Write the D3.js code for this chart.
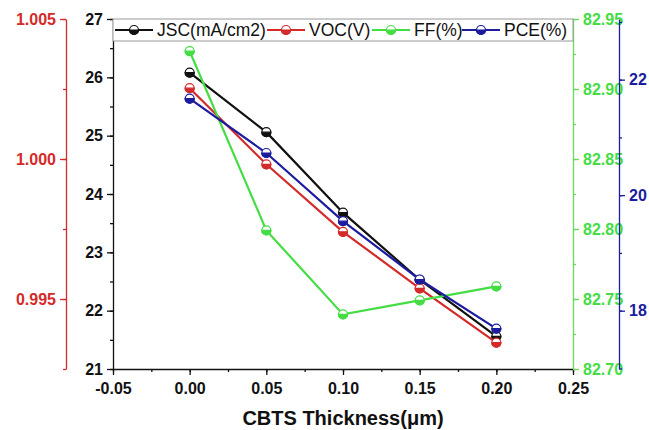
<!DOCTYPE html>
<html>
<head>
<meta charset="utf-8">
<script src="https://cdn.jsdelivr.net/npm/d3@7"></script>
<style>
  body { margin: 0; background: #fff; }
  svg { display: block; font-family: "Liberation Sans", Arial, sans-serif; }
</style>
</head>
<body>
<div id="chart"></div>
<script>
// data ---------------------------------------------------------------------------------------------
const thickness = [0.00, 0.05, 0.10, 0.15, 0.20];
const jsc = [26.08, 25.06, 23.68, 22.53, 21.56];
const voc = [1.00253, 0.99981, 0.99740, 0.99538, 0.99344];
const ff = [82.927, 82.799, 82.739, 82.749, 82.759];
const pce = [21.67, 20.73, 19.55, 18.54, 17.69];

const xTicks = [-0.05, 0.00, 0.05, 0.10, 0.15, 0.20, 0.25];
const jscTicks = [21, 22, 23, 24, 25, 26, 27];
const vocTicks = [0.995, 1.000, 1.005];
const ffTicks = [82.70, 82.75, 82.80, 82.85, 82.90, 82.95];
const pceTicks = [18, 20, 22];

const seriesNames = ['JSC(mA/cm2)', 'VOC(V)', 'FF(%)', 'PCE(%)'];

// chart setup --------------------------------------------------------------------------------------
const width = 649;
const height = 430;
const margin = { top: 19, right: 76, bottom: 61, left: 113 };

const colors = {
    jsc: '#111111',
    voc: '#d42a2a',
    ff: '#44dd44',
    pce: '#1c1c9e'
};

const svg = d3.select('#chart')
    .append('svg')
    .attr('width', width)
    .attr('height', height);

const xScale = d3.scaleLinear()
    .domain([-0.05, 0.25])
    .range([margin.left, width - margin.right]);

const yRange = [height - margin.bottom, margin.top];
const yJsc = d3.scaleLinear().domain([21, 27]).range(yRange);
const yVoc = d3.scaleLinear().domain([0.9925, 1.005]).range(yRange);
const yFf = d3.scaleLinear().domain([82.70, 82.95]).range(yRange);
const yPce = d3.scaleLinear().domain([16.99, 23.05]).range(yRange);

// axes ---------------------------------------------------------------------------------------------
function styleAxis(g, color, fontSize) {
    g.selectAll('path.domain').attr('stroke', color).attr('stroke-width', 1.3);
    g.selectAll('line').attr('stroke', color).attr('stroke-width', 1.3);
    g.selectAll('text')
        .attr('fill', color)
        .style('font-size', fontSize + 'px')
        .style('font-weight', 'bold')
        .style('font-family', '"Liberation Sans", Arial, sans-serif');
}

function minorTicks(scale, step) {
    const [a, b] = scale.domain();
    const out = [];
    const start = Math.ceil(a / step - 1e-6);
    for (let i = start; i * step <= b + 1e-9; i++) out.push(i * step);
    return out;
}

// plain hyphen instead of unicode minus, like the original
const fmt = spec => v => d3.format(spec)(v).replace('\u2212', '-');

function drawAxis(axisFn, scale, ticks, format, transform, color, minorStep) {
    // minor ticks first
    svg.append('g')
        .attr('transform', transform)
        .call(axisFn(scale).tickValues(minorTicks(scale, minorStep)).tickSize(3).tickFormat(''))
        .call(g => g.select('.domain').remove())
        .call(g => styleAxis(g, color, 16));
    const g = svg.append('g')
        .attr('transform', transform)
        .call(axisFn(scale).tickValues(ticks).tickFormat(format).tickSize(6).tickSizeOuter(0).tickPadding(4));
    styleAxis(g, color, 16);
    return g;
}

const bottom = height - margin.bottom;
const left = margin.left;
const right = width - margin.right;

// x axis
drawAxis(d3.axisBottom, xScale, xTicks, fmt('.2f'),
    `translate(0,${bottom})`, '#111', 0.025)
    .selectAll('text').attr('dy', '0.95em');

// JSC axis (inner left)
drawAxis(d3.axisLeft, yJsc, jscTicks, fmt('d'),
    `translate(${left},0)`, '#111', 0.5);

// VOC axis (outer left)
drawAxis(d3.axisLeft, yVoc, vocTicks, fmt('.3f'),
    `translate(66,0)`, colors.voc, 0.0025);

// FF axis (inner right)
drawAxis(d3.axisRight, yFf, ffTicks, fmt('.2f'),
    `translate(${right},0)`, '#66dd55', 0.025)
    .selectAll('text').attr('fill', colors.ff);

// PCE axis (outer right)
drawAxis(d3.axisRight, yPce, pceTicks, fmt('d'),
    `translate(619,0)`, colors.pce, 1);

// x axis title
svg.append('text')
    .attr('x', (left + right) / 2)
    .attr('y', 425)
    .attr('text-anchor', 'middle')
    .style('font-size', '20px')
    .style('font-weight', 'bold')
    .attr('fill', '#111')
    .text('CBTS Thickness(\u03bcm)');

// series -------------------------------------------------------------------------------------------
const series = [
    { name: seriesNames[0], values: jsc, y: yJsc, color: colors.jsc },
    { name: seriesNames[1], values: voc, y: yVoc, color: colors.voc },
    { name: seriesNames[2], values: ff, y: yFf, color: colors.ff },
    { name: seriesNames[3], values: pce, y: yPce, color: colors.pce }
];

// half filled circle marker
function marker(g, cx, cy, color) {
    const r = 4.5;
    g.append('circle')
        .attr('cx', cx).attr('cy', cy).attr('r', r)
        .attr('fill', '#fff')
        .attr('stroke', color).attr('stroke-width', 1.2);
    g.append('path')
        .attr('d', `M${cx - r},${cy} A${r},${r} 0 0 0 ${cx + r},${cy} Z`)
        .attr('fill', color)
        .attr('stroke', color).attr('stroke-width', 1.2);
}

series.forEach(s => {
    const line = d3.line()
        .x((d, i) => xScale(thickness[i]))
        .y(d => s.y(d));
    const g = svg.append('g');
    g.append('path')
        .datum(s.values)
        .attr('d', line)
        .attr('fill', 'none')
        .attr('stroke', s.color)
        .attr('stroke-width', 2.2);
    s.values.forEach((v, i) => marker(g, xScale(thickness[i]), s.y(v), s.color));
});

// legend -------------------------------------------------------------------------------------------
const legend = svg.append('g');
legend.append('rect')
    .attr('x', left)
    .attr('y', margin.top)
    .attr('width', right - left)
    .attr('height', 22)
    .attr('fill', '#fff')
    .attr('stroke', '#999')
    .attr('stroke-width', 1);

const legendX = [115, 267, 372, 462];
const legendY = margin.top + 11;
series.forEach((s, i) => {
    const x0 = legendX[i];
    legend.append('line')
        .attr('x1', x0).attr('x2', x0 + 38)
        .attr('y1', legendY).attr('y2', legendY)
        .attr('stroke', s.color).attr('stroke-width', 2);
    marker(legend, x0 + 19, legendY, s.color);
    legend.append('text')
        .attr('x', x0 + 42)
        .attr('y', legendY)
        .attr('dy', '0.36em')
        .style('font-size', '17.5px')
        .attr('fill', '#111')
        .text(s.name);
});
</script>
</body>
</html>
